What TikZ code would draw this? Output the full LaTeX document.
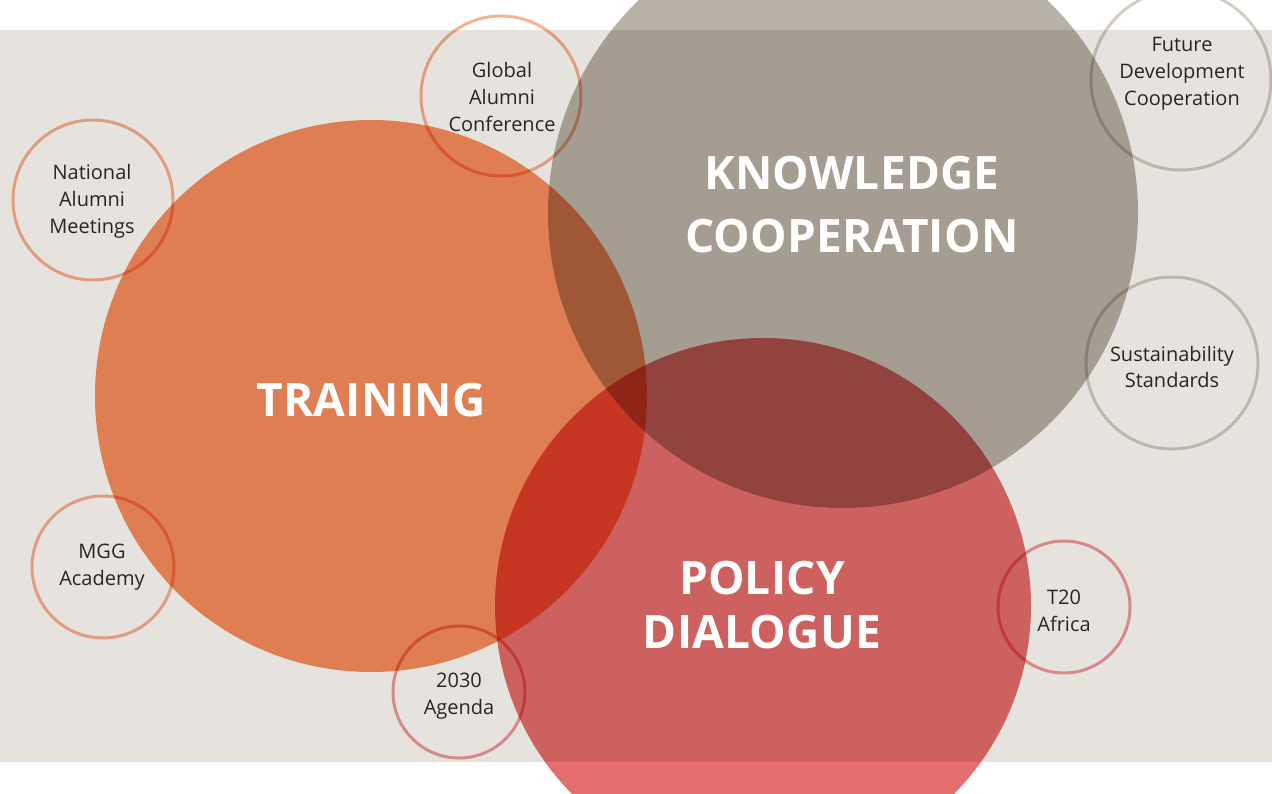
\documentclass[tikz,border=0pt]{standalone}
\usepackage{fontspec}
\setmainfont{Open Sans}
\newfontfamily\bigfont[LetterSpace=0.5]{Open Sans Bold}
\definecolor{bg}{RGB}{230,227,223}
\definecolor{orangeC}{RGB}{248,142,94}
\definecolor{greyC}{RGB}{184,177,167}
\definecolor{redC}{RGB}{228,110,110}
\definecolor{ringO}{RGB}{247,178,146}
\definecolor{ringR}{RGB}{238,156,156}
\definecolor{ringG}{RGB}{212,205,196}
\definecolor{txt}{RGB}{40,38,36}
\begin{document}
\begin{tikzpicture}[x=1pt,y=-1pt,
  lbl/.style={text=txt,font=\fontsize{20}{27}\selectfont,align=center},
  biglbl/.style={text=white,font=\bigfont\fontsize{46}{#1}\selectfont,align=center}]
\useasboundingbox (0,0) rectangle (1272,794);
\fill[bg] (0,30) rectangle (1272,762);
\begin{scope}[blend mode=multiply]
  \fill[orangeC] (371,396) circle[radius=276];
  \fill[greyC] (843,213) circle[radius=295];
  \fill[redC] (763,606) circle[radius=268];
  \draw[ringO,line width=3pt] (501,96) circle[radius=80];
  \draw[ringO,line width=3pt] (93,200) circle[radius=80];
  \draw[ringO,line width=3pt] (103,567) circle[radius=71];
  \draw[ringR,line width=3pt] (459,692) circle[radius=66];
  \draw[ringR,line width=3pt] (1064,607) circle[radius=66];
  \draw[ringG,line width=3pt] (1181,80) circle[radius=90];
  \draw[ringG,line width=3pt] (1172,363) circle[radius=86];
\end{scope}
\node[biglbl=46] (training) at (371,400) {TRAINING};
\node[biglbl=63] (knowledge) at (852,205) {KNOWLEDGE\\COOPERATION};
\node[biglbl=54] (policy) at (762,605) {POLICY\\DIALOGUE};
\node[lbl] (global) at (502,97) {Global\\Alumni\\Conference};
\node[lbl] (national) at (92,201) {National\\Alumni\\Meetings};
\node[lbl] (mgg) at (102,567) {MGG\\Academy};
\node[lbl] (agenda) at (459,696) {2030\\Agenda};
\node[lbl] (t20) at (1064,611) {T20\\Africa};
\node[lbl] (future) at (1182,74) {Future\\Development\\Cooperation};
\node[lbl] (sustain) at (1172,367) {Sustainability\\Standards};
\end{tikzpicture}
\end{document}
